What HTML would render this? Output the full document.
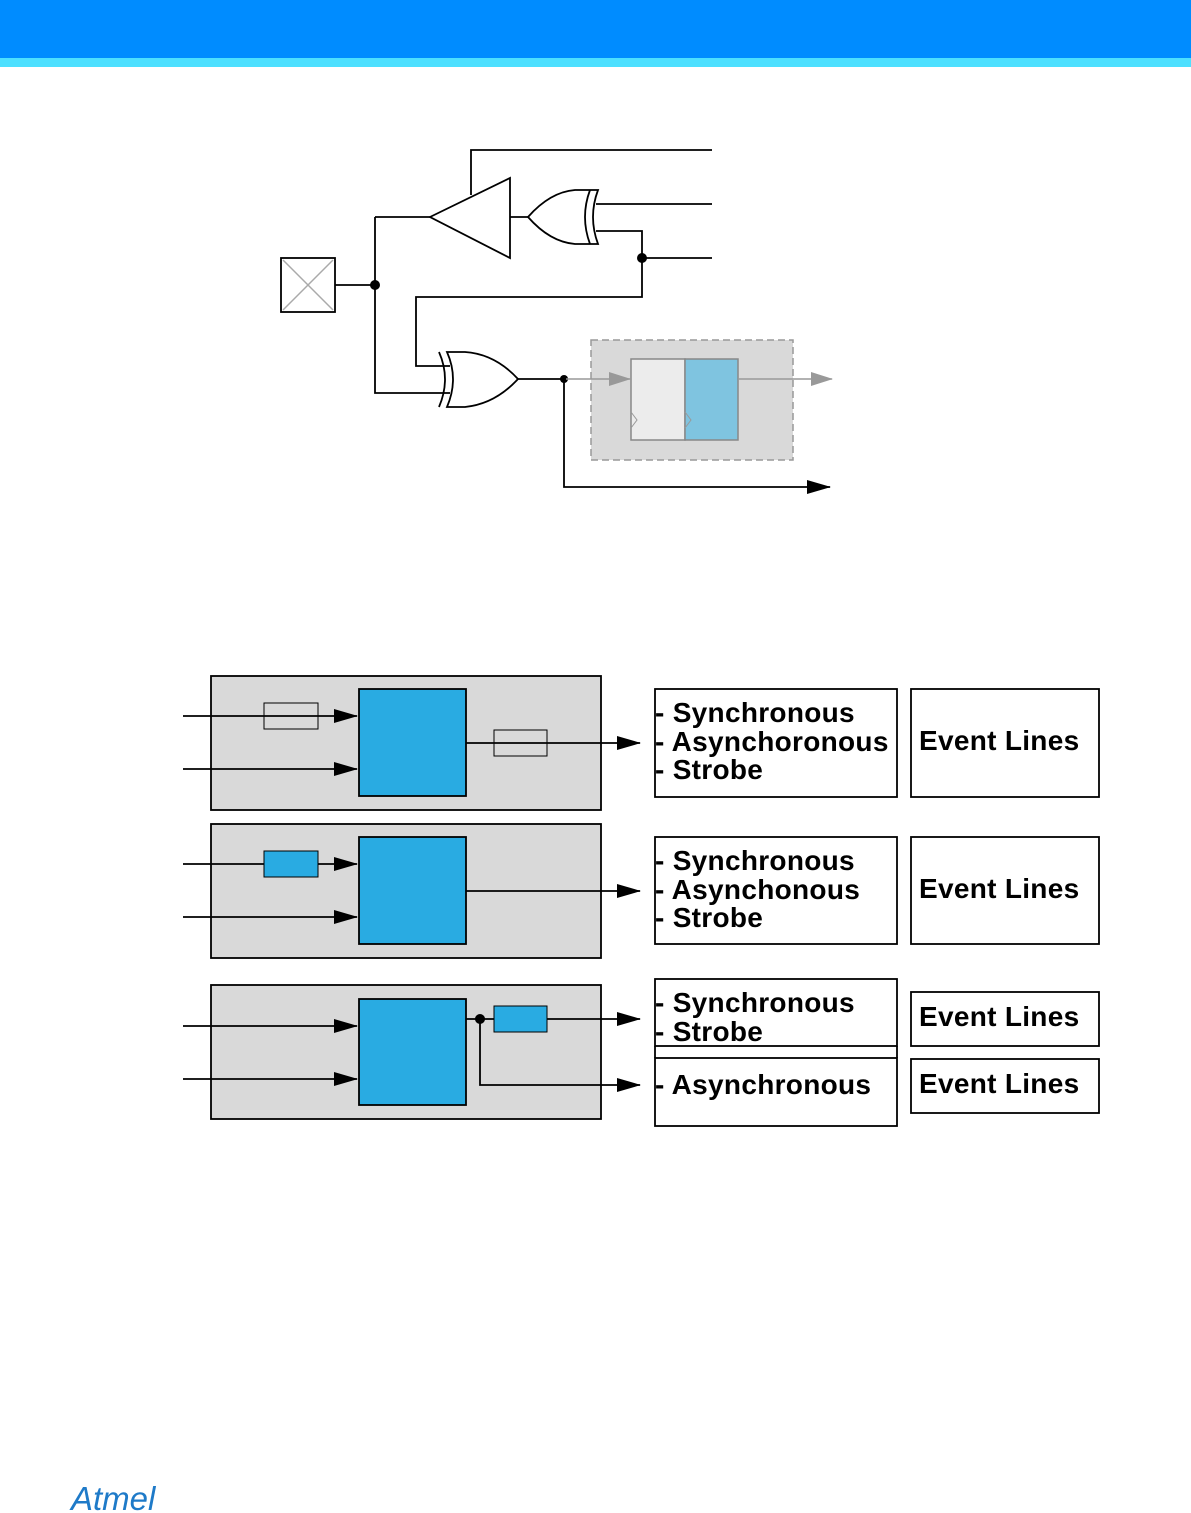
<!DOCTYPE html>
<html><head><meta charset="utf-8"><style>
body{margin:0;width:1191px;height:1513px;background:#fff;overflow:hidden}
svg{display:block}
text{font-family:"Liberation Sans",sans-serif;font-weight:bold;font-size:28px;fill:#000}
</style></head><body>
<svg width="1191" height="1513" viewBox="0 0 1191 1513">
<defs>
<marker id="ab" markerWidth="24" markerHeight="14" refX="23" refY="7" orient="auto" markerUnits="userSpaceOnUse"><path d="M0,0L24,7L0,14z" fill="#000"/></marker>
<marker id="ag" markerWidth="22" markerHeight="14" refX="21" refY="7" orient="auto" markerUnits="userSpaceOnUse"><path d="M0,0L22,7L0,14z" fill="#999"/></marker>
</defs>
<rect x="0" y="0" width="1191" height="58" fill="#008cff"/>
<rect x="0" y="58" width="1191" height="9" fill="#4de0ff"/>
<g fill="none" stroke="#000" stroke-width="1.8">
<polyline points="471,195 471,150 712,150"/>
<polygon points="430,217 510,178 510,258" fill="#fff"/>
<line x1="375" y1="217" x2="430" y2="217"/>
<line x1="510" y1="217" x2="528" y2="217"/>
<path d="M528,217 Q550,192 575,190 L598,190 Q588,217 598,244 L575,244 Q550,242 528,217z" fill="#fff"/>
<path d="M590,190 Q580,217 590,244"/>
<line x1="596" y1="204" x2="712" y2="204"/>
<polyline points="596,231 642,231 642,297 416,297 416,366 450,366"/>
<line x1="642" y1="258" x2="712" y2="258"/>
<rect x="281" y="258" width="54" height="54" fill="#fff"/>
<line x1="335" y1="285" x2="375" y2="285"/>
<polyline points="375,217 375,393 450,393"/>
<path d="M518,379 Q495,354 465,352 L447,352 Q459,379 447,407 L465,407 Q495,404 518,379z" fill="#fff"/>
<path d="M439,352 Q451,379 439,407"/>
<line x1="518" y1="379" x2="564" y2="379"/>
<polyline points="564,379 564,487 830,487" marker-end="url(#ab)"/>
</g>
<g stroke="#aaa" stroke-width="1.5"><line x1="283" y1="260" x2="333" y2="310"/><line x1="333" y1="260" x2="283" y2="310"/></g>
<circle cx="375" cy="285" r="5"/><circle cx="642" cy="258" r="5"/><circle cx="564" cy="379" r="4"/>
<rect x="591" y="340" width="202" height="120" fill="#d9d9d9" stroke="#999" stroke-width="1.5" stroke-dasharray="7,4"/>
<rect x="631" y="359" width="54" height="81" fill="#ececec" stroke="#888" stroke-width="1.5"/>
<rect x="685" y="359" width="53" height="81" fill="#7fc4e0" stroke="#888" stroke-width="1.5"/>
<path d="M631,412 l6,8 -6,8 M685,412 l6,8 -6,8" fill="none" stroke="#999"/>
<g stroke="#999" stroke-width="1.5"><line x1="566" y1="379" x2="630" y2="379" marker-end="url(#ag)"/><line x1="738" y1="379" x2="832" y2="379" marker-end="url(#ag)"/></g>

<g stroke="#000" stroke-width="1.8" fill="none">
<rect x="211" y="676" width="390" height="134" fill="#d9d9d9"/>
<rect x="211" y="824" width="390" height="134" fill="#d9d9d9"/>
<rect x="211" y="985" width="390" height="134" fill="#d9d9d9"/>
<rect x="359" y="689" width="107" height="107" fill="#29abe2"/>
<rect x="359" y="837" width="107" height="107" fill="#29abe2"/>
<rect x="359" y="999" width="107" height="106" fill="#29abe2"/>
<line x1="183" y1="716" x2="357" y2="716" marker-end="url(#ab)"/>
<line x1="183" y1="769" x2="357" y2="769" marker-end="url(#ab)"/>
<line x1="466" y1="743" x2="640" y2="743" marker-end="url(#ab)"/>
<rect x="264" y="703" width="54" height="26" stroke-width="1"/>
<rect x="494" y="730" width="53" height="26" stroke-width="1"/>
<line x1="183" y1="864" x2="357" y2="864" marker-end="url(#ab)"/>
<line x1="183" y1="917" x2="357" y2="917" marker-end="url(#ab)"/>
<line x1="466" y1="891" x2="640" y2="891" marker-end="url(#ab)"/>
<rect x="264" y="851" width="54" height="26" fill="#29abe2" stroke-width="1"/>
<line x1="183" y1="1026" x2="357" y2="1026" marker-end="url(#ab)"/>
<line x1="183" y1="1079" x2="357" y2="1079" marker-end="url(#ab)"/>
<line x1="466" y1="1019" x2="640" y2="1019" marker-end="url(#ab)"/>
<polyline points="480,1019 480,1085 640,1085" marker-end="url(#ab)"/>
<rect x="494" y="1006" width="53" height="26" fill="#29abe2" stroke-width="1"/>
<rect x="655" y="689" width="242" height="108"/>
<rect x="911" y="689" width="188" height="108"/>
<rect x="655" y="837" width="242" height="107"/>
<rect x="911" y="837" width="188" height="107"/>
<rect x="655" y="979" width="242" height="67"/>
<rect x="655" y="1058" width="242" height="68"/>
<line x1="655" y1="1046" x2="655" y2="1058"/><line x1="897" y1="1046" x2="897" y2="1058"/>
<rect x="911" y="992" width="188" height="54"/>
<rect x="911" y="1059" width="188" height="54"/>
</g>
<circle cx="480" cy="1019" r="5"/>
<g style="letter-spacing:0.3px">
<text x="655" y="722">- Synchronous</text>
<text x="655" y="751">- Asynchoronous</text>
<text x="655" y="779">- Strobe</text>
<text x="919" y="750">Event Lines</text>
<text x="655" y="870">- Synchronous</text>
<text x="655" y="899">- Asynchonous</text>
<text x="655" y="927">- Strobe</text>
<text x="919" y="898">Event Lines</text>
<text x="655" y="1012">- Synchronous</text>
<text x="655" y="1041">- Strobe</text>
<text x="655" y="1094">- Asynchronous</text>
<text x="919" y="1026">Event Lines</text>
<text x="919" y="1093">Event Lines</text>
</g>
<text x="71" y="1510" style="font-size:33px;font-weight:normal;fill:#1e7ac8;font-style:italic;letter-spacing:0px">Atmel</text>
</svg>
</body></html>
